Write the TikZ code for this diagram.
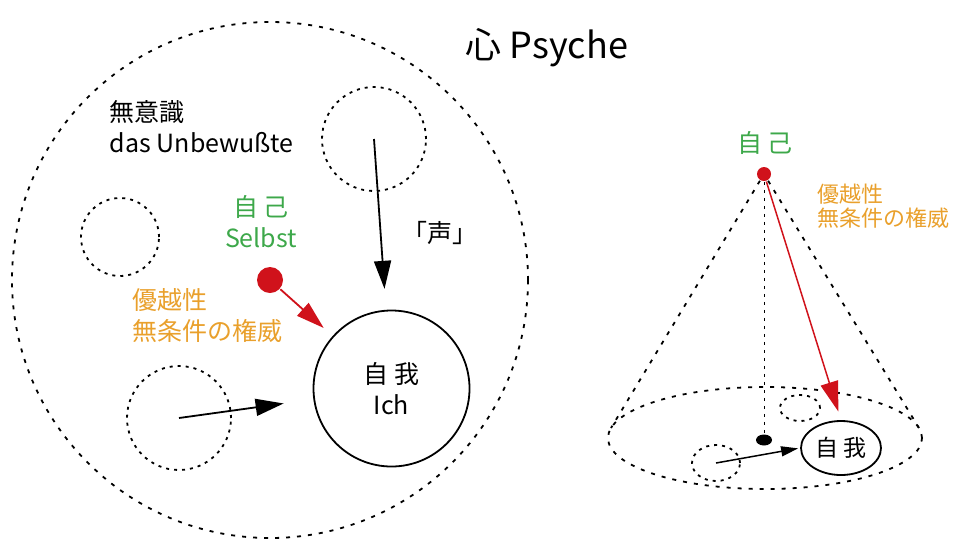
\documentclass[tikz,border=0pt]{standalone}
\usepackage{fontspec}
\setmainfont{Noto Sans CJK JP}
\usetikzlibrary{arrows.meta,shapes.geometric}
\definecolor{selbstgreen}{RGB}{61,168,74}
\definecolor{authorange}{RGB}{233,160,44}
\definecolor{selbstred}{RGB}{208,18,27}

\begin{document}
\begin{tikzpicture}[x=1pt, y=-1pt, line width=1.8pt,
    dots/.style={dash pattern=on 3pt off 5pt},
    bigdots/.style={dash pattern=on 4pt off 7pt},
    ring/.style={circle, draw, dots, inner sep=0pt},
    oval/.style={ellipse, draw, dots, inner sep=0pt},
    spot/.style={circle, fill=selbstred, inner sep=0pt},
    txt/.style={font=\fontsize{25}{31}\selectfont, align=center, inner sep=0pt},
    small/.style={font=\fontsize{22}{24}\selectfont, align=left, inner sep=0pt}]
        \tikzset{>={Triangle[length=28pt,width=17pt]}}
        \useasboundingbox (0,0) rectangle (960,550);

	\node[circle, draw, bigdots, minimum size=516pt, inner sep=0pt] (psy) at (270,280) {};
	\node[font=\fontsize{36}{40}\selectfont, inner sep=0pt] (title) at (547,48) {心 Psyche};
	\node[txt, align=left, anchor=west] (unb) at (109,127) {無意識\\das Unbewußte};
	\node[txt, text=selbstgreen] (sl) at (261,222) {自 己\\Selbst};
	\node[txt] (voice) at (440,233) {「声」};
	\node[txt, text=authorange, align=left, anchor=west] (auth) at (132,316) {優越性\\無条件の権威};

	\node[circle, draw, minimum size=156pt, txt] (ich) at (391.5,388.5) {自 我\\Ich};
	\node[ring, minimum size=104pt] (r1) at (374,139) {};
	\node[ring, minimum size=78pt] (r2) at (120,237) {};
	\node[ring, minimum size=104pt] (r3) at (179,418) {};
	\node[spot, minimum size=26pt] (sd) at (270,280) {};

	\draw[->, shorten >=21pt] (r1.center) -- (ich);
	\draw[->, shorten >=30pt] (r3.center) -- (ich);
	\draw[->, selbstred, shorten >=12pt] (sd) -- (ich);

	\node[oval, bigdots, minimum width=314pt, minimum height=102pt] (base) at (765,438) {};
	\node[spot, minimum size=14pt] (apex) at (764,174) {};
	\coordinate (cl) at (611,428);
	\coordinate (cr) at (919,428);
	\draw[bigdots] (apex) -- (cl);
	\draw[bigdots] (apex) -- (cr);
	\node[ellipse, fill, minimum width=16pt, minimum height=11pt, inner sep=0pt] (foot) at (764,440) {};
	\draw[line width=1pt, dash pattern=on 3pt off 5pt] (apex) -- (foot);
	\node[oval, minimum width=40pt, minimum height=26pt] (e1) at (800,408) {};
	\node[oval, minimum width=48pt, minimum height=36pt] (e2) at (716,463) {};
	\node[ellipse, draw, minimum width=80pt, minimum height=54pt, inner sep=0pt,
	      font=\fontsize{23}{25}\selectfont] (ichr) at (841,448) {自 我};
	\node[txt, text=selbstgreen] (slr) at (765,143) {自 己};
	\node[small, text=authorange, anchor=west] (authr) at (817,206) {優越性\\無条件の権威};

	\draw[->, selbstred, line width=1.5pt, >={Triangle[length=30pt,width=18pt]}, shorten >=9pt] (apex) -- (ichr.north);
	\draw[->, line width=1.5pt, >={Triangle[length=17pt,width=10pt]}, shorten >=2pt] (e2.center) -- (ichr.west);
        \end{tikzpicture}
\end{document}
